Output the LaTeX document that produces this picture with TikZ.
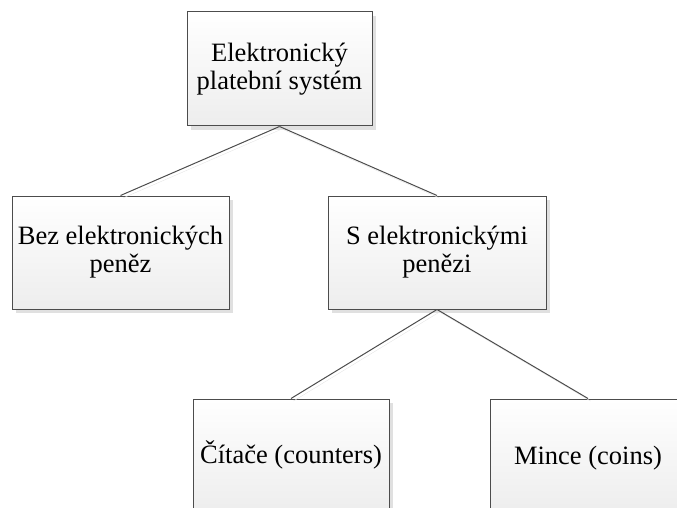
\documentclass[tikz,border=0pt]{standalone}
\usepackage{fontspec}
\setmainfont{Liberation Serif}
\usepackage{xcolor}
\usetikzlibrary{shadows}

\begin{document}
\begin{tikzpicture}[x=1pt,y=-1pt]
\tikzstyle{box}=[draw=black!70,line width=1pt,shape=rectangle,align=center,inner sep=1pt,
  top color=white,bottom color=black!7,
  drop shadow={shadow xshift=4pt,shadow yshift=-4pt,fill=black!12,opacity=1},
  font=\fontsize{26.5}{28}\selectfont]
\tikzstyle{link}=[draw=black!70,line width=1pt,
  preaction={draw=black!10,transform canvas={shift={(2.5pt,-2.5pt)}}}]
%
\clip (0,0) rectangle (677,508);
%
\node[box,minimum width=185pt,minimum height=114pt](sys) at (279.5,69){Elektronický\\platební systém};
\node[box,minimum width=217pt,minimum height=113pt](bez) at (120.5,252.5){Bez elektronických\\peněz};
\node[box,minimum width=218pt,minimum height=113pt](sel) at (437,252.5){S elektronickými\\penězi};
\node[box,minimum width=196pt,minimum height=113pt,text depth=6pt](cit) at (291,455.5){Čítače (counters)};
\node[box,minimum width=196pt,minimum height=113pt,text depth=0pt](min) at (588,455.5){Mince (coins)};
%
\draw[link] (sys.south) -- (bez.north);
\draw[link] (sys.south) -- (sel.north);
%
\draw[link] (sel.south) -- (cit.north);
\draw[link] (sel.south) -- (min.north);
\end{tikzpicture}
\end{document}
